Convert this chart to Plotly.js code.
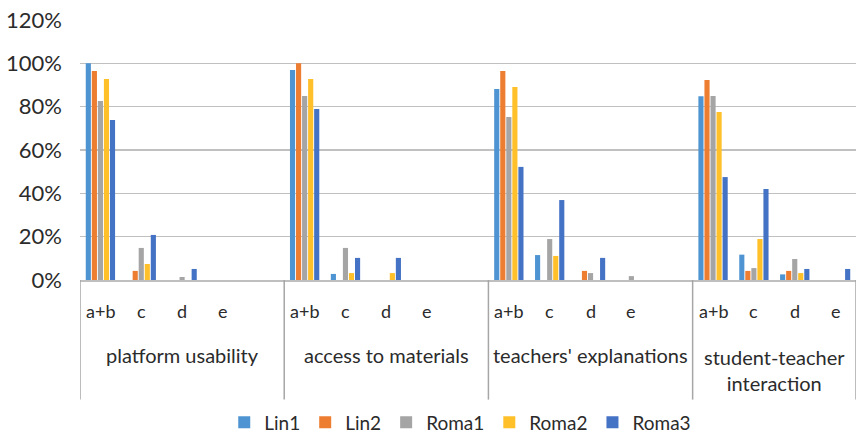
<!DOCTYPE html>
<html><head><meta charset="utf-8">
<script src="https://cdn.plot.ly/plotly-3.0.1.min.js"></script>
<style>html,body{margin:0;padding:0;background:#fff}#c{width:856px;height:437px}</style>
</head><body><div id="c"></div>
<script>
const groups = ["platform usability", "access to materials", "teachers' explanations", "student-teacher<br>interaction"];
const subcats = ["a+b", "c", "d", "e"];
const seriesNames = ["Lin1", "Lin2", "Roma1", "Roma2", "Roma3"];
const colors = ["#4e94d2", "#ed7d31", "#a5a5a5", "#ffc02a", "#4472c4"];
// values per group: [a+b, c, d, e]
const Lin1  = [100, 0, 0, 0,   96.9, 2.8, 0, 0,    88.2, 11.5, 0, 0,    84.8, 11.7, 2.6, 0];
const Lin2  = [96.5, 4.2, 0, 0, 100, 0, 0, 0,      96.5, 0, 4.2, 0,     92.3, 4.2, 4.2, 0];
const Roma1 = [82.6, 14.8, 1.4, 0, 84.9, 14.8, 0, 0, 75.2, 18.9, 3.2, 1.8, 84.9, 5.5, 9.7, 0];
const Roma2 = [92.8, 7.4, 0, 0, 92.8, 3.2, 3.2, 0, 89.1, 11.1, 0, 0,   77.5, 18.9, 3.2, 0];
const Roma3 = [73.8, 20.8, 5.1, 0, 78.9, 10.2, 10.2, 0, 52.2, 36.9, 10.2, 0, 47.5, 42, 5.1, 5.1];
const allSeries = [Lin1, Lin2, Roma1, Roma2, Roma3];

// multicategory x with a blank spacer category after each group except the last
const xg = [], xs = [], idx = [];
const subPos = [], groupPos = [], bounds = [-0.5];
groups.forEach((g, gi) => {
  const start = xg.length;
  subcats.forEach((s, si) => { subPos.push([xg.length, s]); xg.push(g); xs.push(s); idx.push(gi * subcats.length + si); });
  if (gi < groups.length - 1) { xg.push(g); xs.push(" "); idx.push(-1); }
  const end = xg.length - 1;
  groupPos.push([(start + end) / 2, g]);
  bounds.push(end + 0.5);
});
const traces = allSeries.map((vals, k) => ({
  type: "bar",
  name: seriesNames[k],
  x: [xg, xs],
  y: idx.map(i => i < 0 ? null : vals[i]),
  marker: {color: colors[k]},
  hoverinfo: "skip"
}));
const F = "Lato, 'Open Sans', sans-serif";
const TC = "#2b2b2b";
const annotations = [];
subPos.forEach(([p, s]) => annotations.push({
  x: p, xref: "x", y: -0.118, yref: "paper", text: s, showarrow: false,
  xanchor: "center", yanchor: "middle", font: {family: F, size: 18, color: TC}
}));
groupPos.forEach(([p, g]) => {
  const twoLine = g.indexOf("<br>") >= 0;
  annotations.push({
    x: p, xref: "x", y: twoLine ? -0.345 : -0.29, yref: "paper", text: g, showarrow: false,
    xanchor: "center", yanchor: "middle", font: {family: F, size: 20, color: TC}
  });
});
const shapes = bounds.map(b => ({
  type: "line", xref: "x", yref: "paper", x0: b, x1: b, y0: 0, y1: -0.46,
  line: {color: "#a6a6a6", width: 1.5}
}));
const layout = {
  width: 856, height: 437,
  margin: {l: 80, r: 0, t: 20, b: 157, autoexpand: false},
  paper_bgcolor: "#fff", plot_bgcolor: "#fff",
  barmode: "group", bargap: 0.26, bargroupgap: 0.15,
  font: {family: F, size: 18, color: TC},
  xaxis: {
    type: "multicategory",
    range: [-0.5, 18.5],
    showgrid: false, zeroline: false, showticklabels: false,
    showline: true, linecolor: "#bfbfbf", linewidth: 1.5,
    showdividers: false, ticks: ""
  },
  yaxis: {
    range: [0, 120], dtick: 20, ticksuffix: "%",
    showgrid: true, gridcolor: "#c0c0c0", gridwidth: 1.5,
    zeroline: false, showline: false, ticks: "",
    tickfont: {family: F, size: 22, color: TC},
    ticklabelstandoff: 17
  },
  legend: {
    orientation: "h", x: 0.49, xanchor: "center", y: -0.475, yanchor: "top",
    font: {family: F, size: 19, color: TC},
    itemwidth: 30, traceorder: "normal"
  },
  annotations: annotations,
  shapes: shapes,
  showlegend: true
};
Plotly.newPlot("c", traces, layout, {displayModeBar: false, staticPlot: true});
</script></body></html>
